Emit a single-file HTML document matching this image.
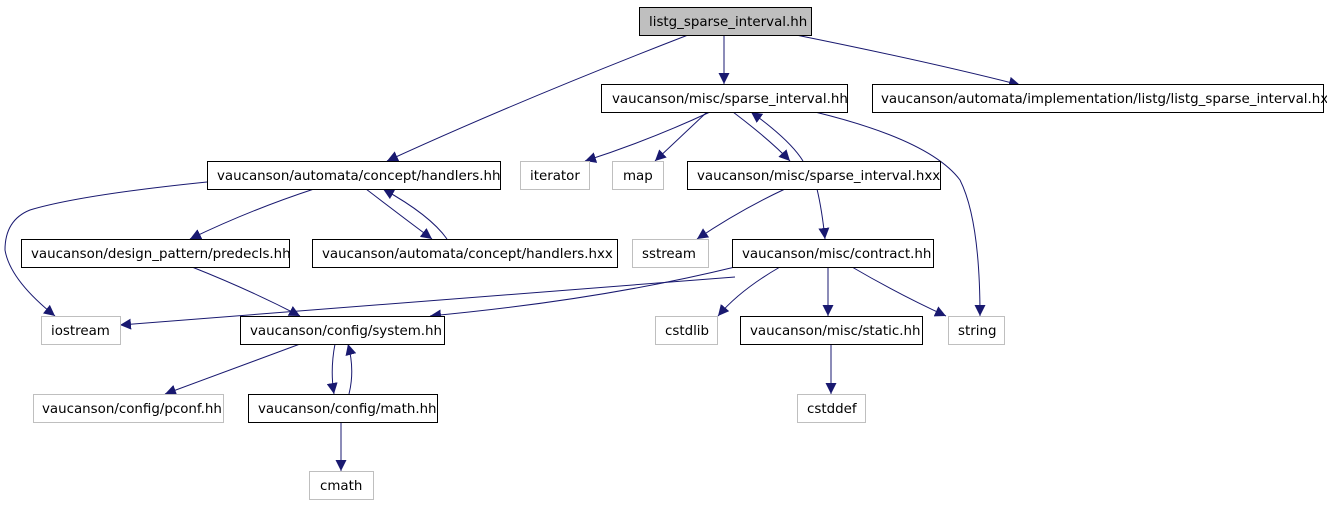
<!DOCTYPE html>
<html><head><style>
html,body{margin:0;padding:0;background:#fff;}
text{font-family:"DejaVu Sans","Liberation Sans",sans-serif;font-size:13.4px;fill:#000;}
</style></head><body>
<svg width="1327" height="504" viewBox="0 0 1327 504" xmlns="http://www.w3.org/2000/svg">
<defs>
<marker id="a" viewBox="0 0 10 10" refX="10" refY="5" markerWidth="11" markerHeight="11" markerUnits="userSpaceOnUse" orient="auto">
<path d="M0,0 L10,5 L0,10 z" fill="#191970"/>
</marker>
</defs>
<g fill="none" stroke="#191970" stroke-width="1" marker-end="url(#a)">
<path d="M724,35 L724,84"/>
<path d="M796,35 Q930,62 1020,85"/>
<path d="M688,35 Q520,100 387,161"/>
<path d="M710,112 Q650,140 585,161"/>
<path d="M707,112 L655,161"/>
<path d="M733,112 Q770,140 790,161"/>
<path d="M803,161 Q790,140 751,112"/>
<path d="M815,112 Q930,140 960,180 Q980,220 980,316"/>
<path d="M785,189 Q740,210 697,239"/>
<path d="M817,189 Q822,210 825,239"/>
<path d="M207,182 Q80,195 30,210 Q5,220 5,250 Q10,280 55,316"/>
<path d="M314,189 Q250,210 190,239"/>
<path d="M366,189 Q400,215 432,239"/>
<path d="M447,239 Q430,215 383,189"/>
<path d="M192,267 Q250,290 300,316"/>
<path d="M735,277 Q440,300 120,325"/>
<path d="M735,267 Q600,300 430,316"/>
<path d="M780,267 Q740,290 718,316"/>
<path d="M828,267 L828,316"/>
<path d="M852,267 Q900,295 946,316"/>
<path d="M300,344 Q230,370 165,394"/>
<path d="M335,344 Q330,370 334,394"/>
<path d="M349,394 Q355,370 348,344"/>
<path d="M831,344 L831,394"/>
<path d="M341,421 L341,471"/>
</g>
<g stroke-width="1">
<rect x="639.5" y="7.5" width="172" height="28" fill="#bfbfbf" stroke="#000"/>
<rect x="601.5" y="84.5" width="246" height="28" fill="#fff" stroke="#000"/>
<rect x="872.5" y="84.5" width="451" height="28" fill="#fff" stroke="#000"/>
<rect x="207.5" y="161.5" width="293" height="28" fill="#fff" stroke="#000"/>
<rect x="520.5" y="161.5" width="69" height="28" fill="#fff" stroke="#bfbfbf"/>
<rect x="612.5" y="161.5" width="51" height="28" fill="#fff" stroke="#bfbfbf"/>
<rect x="687.5" y="161.5" width="253" height="28" fill="#fff" stroke="#000"/>
<rect x="21.5" y="239.5" width="268" height="28" fill="#fff" stroke="#000"/>
<rect x="312.5" y="239.5" width="305" height="28" fill="#fff" stroke="#000"/>
<rect x="632.5" y="239.5" width="76" height="28" fill="#fff" stroke="#bfbfbf"/>
<rect x="732.5" y="239.5" width="201" height="28" fill="#fff" stroke="#000"/>
<rect x="41.5" y="316.5" width="79" height="28" fill="#fff" stroke="#bfbfbf"/>
<rect x="240.5" y="316.5" width="204" height="28" fill="#fff" stroke="#000"/>
<rect x="655.5" y="316.5" width="62" height="28" fill="#fff" stroke="#bfbfbf"/>
<rect x="740.5" y="316.5" width="182" height="28" fill="#fff" stroke="#000"/>
<rect x="948.5" y="316.5" width="56" height="28" fill="#fff" stroke="#bfbfbf"/>
<rect x="33.5" y="394.5" width="190" height="28" fill="#fff" stroke="#bfbfbf"/>
<rect x="248.5" y="394.5" width="189" height="28" fill="#fff" stroke="#000"/>
<rect x="797.5" y="394.5" width="68" height="28" fill="#fff" stroke="#bfbfbf"/>
<rect x="309.5" y="471.5" width="64" height="28" fill="#fff" stroke="#bfbfbf"/>
</g>
<g>
<text x="649" y="26">listg_sparse_interval.hh</text>
<text x="612" y="103">vaucanson/misc/sparse_interval.hh</text>
<text x="881" y="103">vaucanson/automata/implementation/listg/listg_sparse_interval.hxx</text>
<text x="217" y="180">vaucanson/automata/concept/handlers.hh</text>
<text x="530" y="180">iterator</text>
<text x="623" y="180">map</text>
<text x="697" y="180">vaucanson/misc/sparse_interval.hxx</text>
<text x="31" y="258">vaucanson/design_pattern/predecls.hh</text>
<text x="322" y="258">vaucanson/automata/concept/handlers.hxx</text>
<text x="642" y="258">sstream</text>
<text x="742" y="258">vaucanson/misc/contract.hh</text>
<text x="51" y="335">iostream</text>
<text x="250" y="335">vaucanson/config/system.hh</text>
<text x="665" y="335">cstdlib</text>
<text x="750" y="335">vaucanson/misc/static.hh</text>
<text x="958" y="335">string</text>
<text x="42" y="413">vaucanson/config/pconf.hh</text>
<text x="258" y="413">vaucanson/config/math.hh</text>
<text x="807" y="413">cstddef</text>
<text x="320" y="490">cmath</text>
</g>
</svg>
</body></html>
